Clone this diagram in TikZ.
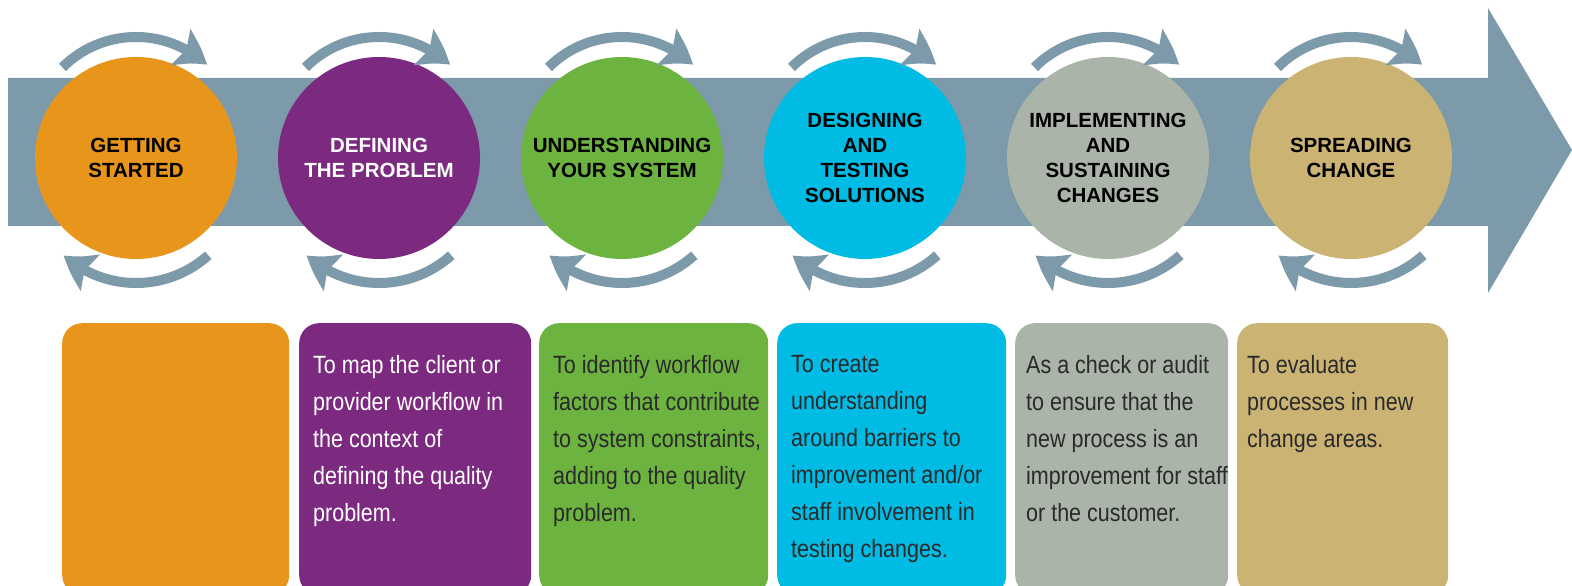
\documentclass[tikz,border=0pt]{standalone}
\usepackage{xcolor}
\usepackage{fontspec}
\usepackage{tikz}
\usetikzlibrary{arrows.meta,bending}

\setmainfont{Liberation Sans}
\newfontfamily\cardfont[FakeStretch=0.86]{Liberation Sans}

\definecolor{barblue}{HTML}{7C9AAA}
\definecolor{getorange}{HTML}{E8951B}
\definecolor{defpurple}{HTML}{7B2A80}
\definecolor{undgreen}{HTML}{6DB33F}
\definecolor{descyan}{HTML}{00BCE4}
\definecolor{impgray}{HTML}{AAB4A8}
\definecolor{sprtan}{HTML}{CBB374}
\definecolor{cardink}{HTML}{2A2A2A}

\begin{document}
\begin{tikzpicture}[x=1pt, y=1pt,
    stage/.style={circle, minimum size=202pt, inner sep=0pt, align=center,
        font=\bfseries\fontsize{20.5}{25}\selectfont},
    spinarrow/.style={draw=barblue, line width=10pt,
        -{Stealth[length=32pt, width=40pt, inset=6pt, bend]}},
    card/.style={rectangle, rounded corners=20pt, anchor=north west,
        minimum height=272pt, inner sep=0pt},
    cardtext/.style={anchor=north west, inner sep=0pt, align=left, text=cardink,
        font=\cardfont\fontsize{25}{37}\selectfont}]
            \useasboundingbox (0,0) rectangle (1572,586);
            \clip (0,0) rectangle (1572,586);

            % big arrow behind the stages
            \fill[barblue] (8,508) -- (1488,508) -- (1488,578) -- (1572,436)
                -- (1488,293) -- (1488,360) -- (8,360) -- cycle;

            \node[stage, fill=getorange] (s1) at (136,428) {GETTING\\STARTED};
            \node[stage, fill=defpurple, text=white] (s2) at (379,428) {DEFINING\\THE PROBLEM};
            \node[stage, fill=undgreen] (s3) at (622,428) {UNDERSTANDING\\YOUR SYSTEM};
            \node[stage, fill=descyan] (s4) at (865,428) {DESIGNING\\AND\\TESTING\\SOLUTIONS};
            \node[stage, fill=impgray] (s5) at (1108,428) {IMPLEMENTING\\AND\\SUSTAINING\\CHANGES};
            \node[stage, fill=sprtan] (s6) at (1351,428) {SPREADING\\CHANGE};

            % turning arrows above and below each stage
            \draw[spinarrow] ([yshift=17pt]s1.center) ++(135:104) arc[start angle=135, end angle=47, radius=104];
            \draw[spinarrow] ([yshift=-17pt]s1.center) ++(-48:108) arc[start angle=-48, end angle=-132, radius=108];
            \draw[spinarrow] ([yshift=17pt]s2.center) ++(135:104) arc[start angle=135, end angle=47, radius=104];
            \draw[spinarrow] ([yshift=-17pt]s2.center) ++(-48:108) arc[start angle=-48, end angle=-132, radius=108];
            \draw[spinarrow] ([yshift=17pt]s3.center) ++(135:104) arc[start angle=135, end angle=47, radius=104];
            \draw[spinarrow] ([yshift=-17pt]s3.center) ++(-48:108) arc[start angle=-48, end angle=-132, radius=108];
            \draw[spinarrow] ([yshift=17pt]s4.center) ++(135:104) arc[start angle=135, end angle=47, radius=104];
            \draw[spinarrow] ([yshift=-17pt]s4.center) ++(-48:108) arc[start angle=-48, end angle=-132, radius=108];
            \draw[spinarrow] ([yshift=17pt]s5.center) ++(135:104) arc[start angle=135, end angle=47, radius=104];
            \draw[spinarrow] ([yshift=-17pt]s5.center) ++(-48:108) arc[start angle=-48, end angle=-132, radius=108];
            \draw[spinarrow] ([yshift=17pt]s6.center) ++(135:104) arc[start angle=135, end angle=47, radius=104];
            \draw[spinarrow] ([yshift=-17pt]s6.center) ++(-48:108) arc[start angle=-48, end angle=-132, radius=108];

            % description cards
            \node[card, fill=getorange, minimum width=227pt] (c1) at (62,263) {};
            \node[card, fill=defpurple, minimum width=232pt] (c2) at (299,263) {};
            \node[card, fill=undgreen, minimum width=229pt] (c3) at (539,263) {};
            \node[card, fill=descyan, minimum width=229pt] (c4) at (777,263) {};
            \node[card, fill=impgray, minimum width=213pt] (c5) at (1015,263) {};
            \node[card, fill=sprtan, minimum width=211pt] (c6) at (1237,263) {};

            \node[cardtext, text=white] (t2) at ([xshift=14pt, yshift=-32pt]c2.north west)
                {To map the client or\\provider workflow in\\the context of\\defining the quality\\problem.};
            \node[cardtext] (t3) at ([xshift=14pt, yshift=-32pt]c3.north west)
                {To identify workflow\\factors that contribute\\to system constraints,\\adding to the quality\\problem.};
            \node[cardtext] (t4) at ([xshift=14pt, yshift=-32pt]c4.north west)
                {To create\\understanding\\around barriers to\\improvement and/or\\staff involvement in\\testing changes.};
            \node[cardtext] (t5) at ([xshift=11pt, yshift=-32pt]c5.north west)
                {As a check or audit\\to ensure that the\\new process is an\\improvement for staff\\or the customer.};
            \node[cardtext] (t6) at ([xshift=10pt, yshift=-32pt]c6.north west)
                {To evaluate\\processes in new\\change areas.};
\end{tikzpicture}
\end{document}
